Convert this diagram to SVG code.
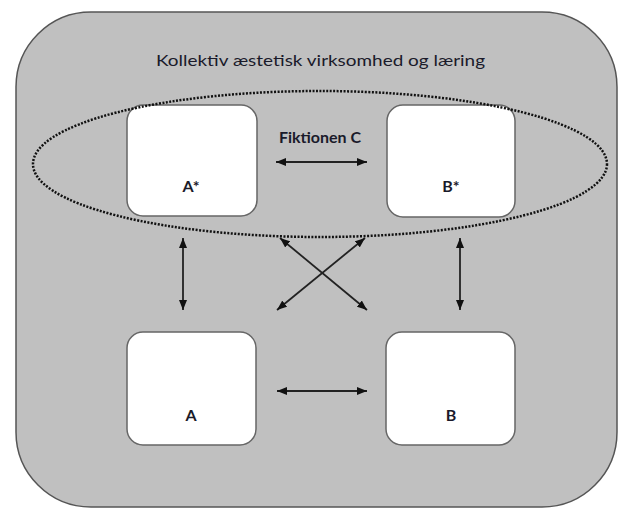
<svg xmlns="http://www.w3.org/2000/svg" width="618" height="508" viewBox="0 0 618 508">
<defs>
<marker id="ah" viewBox="0 0 10 8" refX="10" refY="4" markerWidth="10" markerHeight="8" markerUnits="userSpaceOnUse" orient="auto-start-reverse">
<path d="M0,0 L10,4 L0,8 z" fill="#111"/>
</marker>
<style>
.box{fill:#fff;stroke:#666;stroke-width:1.5}
.lbl{font-family:Lato,"Liberation Sans",sans-serif;font-size:16px;font-weight:bold;fill:#1a1a2a;text-anchor:middle}
.arr{stroke:#222;stroke-width:1.8;fill:none;marker-start:url(#ah);marker-end:url(#ah)}
</style>
</defs>
<rect width="618" height="508" fill="#fff"/>
<g id="outer">
<rect x="16" y="12" width="601" height="495" rx="75" ry="75" fill="#c0c0c0" stroke="#555" stroke-width="1.5"/>
<text x="320.5" y="66" font-family="Lato,'Liberation Sans',sans-serif" font-size="16" fill="#1a1a2a" text-anchor="middle" textLength="329" lengthAdjust="spacingAndGlyphs">Kollektiv æstetisk virksomhed og læring</text>
</g>
<g id="nodeAstar">
<rect class="box" x="127" y="105" width="130" height="111" rx="16"/>
<text class="lbl" x="191" y="192">A*</text>
</g>
<g id="nodeBstar">
<rect class="box" x="387" y="105" width="128" height="112" rx="16"/>
<text class="lbl" x="451" y="192">B*</text>
</g>
<g id="nodeA">
<rect class="box" x="127" y="332" width="129" height="113" rx="16"/>
<text class="lbl" x="191" y="421">A</text>
</g>
<g id="nodeB">
<rect class="box" x="386" y="332" width="129" height="113" rx="16"/>
<text class="lbl" x="451" y="421">B</text>
</g>
<g id="fiction">
<ellipse cx="320" cy="164" rx="287" ry="73" fill="none" stroke="#111" stroke-width="2.5" stroke-dasharray="2 1.5"/>
<text class="lbl" x="320" y="143">Fiktionen C</text>
</g>
<g id="connectors">
<line class="arr" x1="276" y1="162" x2="367" y2="162"/>
<line class="arr" x1="183" y1="238" x2="183" y2="310"/>
<line class="arr" x1="460" y1="238" x2="460" y2="310"/>
<line class="arr" x1="280" y1="238" x2="367" y2="310"/>
<line class="arr" x1="365" y1="238" x2="277" y2="310"/>
<line class="arr" x1="277" y1="391" x2="367" y2="391"/>
</g>
</svg>
